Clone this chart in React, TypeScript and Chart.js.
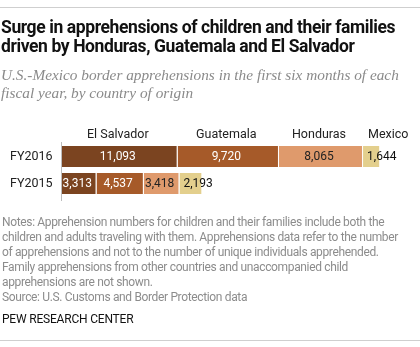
import React, { useEffect, useRef } from "react";
import { Chart, registerables } from "chart.js";

Chart.register(...registerables);

const categories = ["FY2016", "FY2015"];
const countries = ["El Salvador", "Guatemala", "Honduras", "Mexico"];
const elSalvador = [11093, 3313];
const guatemala = [9720, 4537];
const honduras = [8065, 3418];
const mexico = [1644, 2193];
const seriesValues = [elSalvador, guatemala, honduras, mexico];
const colors = ["#7b4420", "#a65a29", "#df9a6c", "#e3cf8d"];
const labelColors = ["#ffffff", "#ffffff", "#222222", "#111111"];

const titleLines = [
  "Surge in apprehensions of children and their families",
  "driven by Honduras, Guatemala and El Salvador",
];
const subtitleLines = [
  "U.S.-Mexico border apprehensions in the first six months of each",
  "fiscal year, by country of origin",
];
const noteLines = [
  "Notes: Apprehension numbers for children and their families include both the",
  "children and adults traveling with them. Apprehensions data refer to the number",
  "of apprehensions and not to the number of unique individuals apprehended.",
  "Family apprehensions from other countries and unaccompanied child",
  "apprehensions are not shown.",
  "Source: U.S. Customs and Border Protection data",
];
const credit = "PEW RESEARCH CENTER";

const FONT = "Roboto, 'Noto Sans', sans-serif";

export default function App() {
  const ref = useRef<HTMLCanvasElement | null>(null);

  useEffect(() => {
    document.body.style.margin = "0";
    const canvas = ref.current;
    if (!canvas) return;

    const labelPlugin = {
      id: "labels",
      afterDatasetsDraw(chart: any) {
        const ctx = chart.ctx;
        ctx.save();
        const left = chart.chartArea.left;
        ctx.strokeStyle = "#bdbdbd";
        ctx.lineWidth = 1;
        ctx.beginPath();
        ctx.moveTo(left - 0.5, chart.chartArea.top - 1);
        ctx.lineTo(left - 0.5, chart.chartArea.bottom + 4);
        ctx.stroke();

        ctx.textBaseline = "middle";
        const m0 = chart.getDatasetMeta(0);
        ctx.font = `12.5px ${FONT}`;
        ctx.fillStyle = "#222";
        ctx.textAlign = "left";
        categories.forEach((c, j) => {
          const el = m0.data[j];
          ctx.fillText(c, 10, el.y + 0.5);
        });

        chart.data.datasets.forEach((ds: any, i: number) => {
          const meta = chart.getDatasetMeta(i);
          meta.data.forEach((el: any, j: number) => {
            const v = ds.data[j];
            const txt = v.toLocaleString("en-US");
            ctx.font = `12px ${FONT}`;
            ctx.fillStyle = labelColors[i];
            if (i === 3) {
              ctx.textAlign = "left";
              ctx.fillText(txt, el.base + 4, el.y + 0.5);
            } else {
              ctx.textAlign = "center";
              ctx.fillText(txt, (el.x + el.base) / 2 - 2, el.y + 0.5);
            }
            if (j === 0) {
              ctx.font = `12.5px ${FONT}`;
              ctx.fillStyle = "#222";
              const hy = el.y - el.height / 2 - 11;
              if (i === 3) {
                ctx.textAlign = "left";
                ctx.fillText(countries[i], el.base + 5, hy);
              } else {
                ctx.textAlign = "center";
                ctx.fillText(countries[i], (el.x + el.base) / 2 - 2, hy);
              }
            }
          });
        });
        ctx.restore();
      },
    };

    const chart = new Chart(canvas, {
      type: "bar",
      data: {
        labels: categories,
        datasets: countries.map((name, i) => ({
          label: name,
          data: seriesValues[i],
          backgroundColor: colors[i],
          borderColor: "rgba(255,255,255,0.55)",
          borderWidth: { top: 0, bottom: 0, left: 0, right: 1 },
          borderSkipped: false,
          barPercentage: 0.78,
          categoryPercentage: 1,
        })),
      },
      options: {
        indexAxis: "y",
        animation: false,
        responsive: false,
        maintainAspectRatio: false,
        layout: { padding: { left: 62, right: 14, top: 143, bottom: 150 } },
        plugins: {
          legend: { display: false },
          tooltip: { enabled: false },
          title: { display: false },
        },
        scales: {
          x: { stacked: true, min: 0, max: 33000, display: false },
          y: { stacked: true, display: false },
        },
      },
      plugins: [labelPlugin],
    });
    return () => chart.destroy();
  }, []);

  const wrap: React.CSSProperties = {
    position: "absolute",
    left: 0,
    top: 0,
    width: 420,
    height: 347,
    background: "#fff",
    overflow: "hidden",
  };

  return (
    <div style={wrap}>
      <canvas
        ref={ref}
        width={420}
        height={347}
        style={{ position: "absolute", left: 0, top: 0, width: 420, height: 347 }}
      />
      <div style={{ position: "absolute", left: 0, top: 7, width: 420, height: 1, background: "#cfcfcf" }} />
      <div
        style={{
          position: "absolute",
          left: 1,
          top: 17.6,
          fontFamily: FONT,
          fontWeight: 700,
          fontSize: 17.5,
          letterSpacing: "-0.4px",
          lineHeight: "19px",
          color: "#111",
          whiteSpace: "nowrap",
        }}
      >
        {titleLines.map((l, i) => (
          <div key={i}>{l}</div>
        ))}
      </div>
      <div
        style={{
          position: "absolute",
          left: 1,
          top: 65.7,
          fontFamily: "'Liberation Serif', serif",
          fontStyle: "italic",
          fontSize: 15.3,
          lineHeight: "18.5px",
          color: "#8a8a8a",
          whiteSpace: "nowrap",
        }}
      >
        {subtitleLines.map((l, i) => (
          <div key={i}>{l}</div>
        ))}
      </div>
      <div
        style={{
          position: "absolute",
          left: 2,
          top: 215.4,
          fontFamily: FONT,
          fontSize: 12,
          letterSpacing: "-0.35px",
          lineHeight: "15px",
          color: "#8c8c8c",
          whiteSpace: "nowrap",
        }}
      >
        {noteLines.map((l, i) => (
          <div key={i}>{l}</div>
        ))}
      </div>
      <div
        style={{
          position: "absolute",
          left: 2,
          top: 312.4,
          fontFamily: FONT,
          fontSize: 12,
          letterSpacing: "-0.2px",
          lineHeight: "15px",
          color: "#111",
          whiteSpace: "nowrap",
        }}
      >
        {credit}
      </div>
      <div style={{ position: "absolute", left: 0, top: 340, width: 420, height: 1, background: "#cfcfcf" }} />
    </div>
  );
}
